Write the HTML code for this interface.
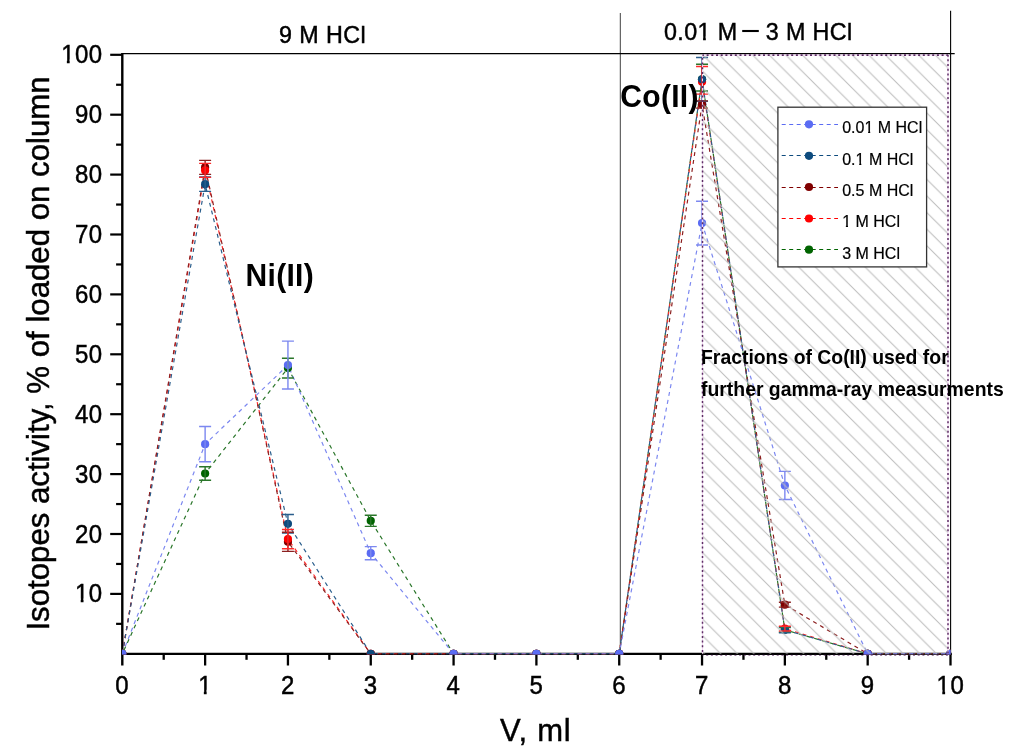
<!DOCTYPE html>
<html><head><meta charset="utf-8"><style>html,body{margin:0;padding:0;background:#fff;overflow:hidden}svg{display:block;will-change:transform}</style></head>
<body><svg width="1019" height="755" viewBox="0 0 1019 755" font-family="Liberation Sans, sans-serif">
<defs>
<clipPath id="pc"><rect x="122" y="54" width="828.6" height="600.4"/></clipPath>
<pattern id="hatch" patternUnits="userSpaceOnUse" width="16.6" height="16.6" x="0.5" y="0"><path d="M-4.15,-4.15 L20.75,20.75 M-4.15,12.45 L4.15,20.75 M12.45,-4.15 L20.75,4.15" stroke="#bbbbbb" stroke-width="1"/></pattern>
</defs>
<rect width="1019" height="755" fill="#fff"/>
<line x1="620.3" y1="13" x2="620.3" y2="653.8" stroke="#404040" stroke-width="1"/>
<line x1="950.6" y1="10.7" x2="950.6" y2="653.8" stroke="#000" stroke-width="1.1"/>
<line x1="122" y1="53.6" x2="954.7" y2="53.6" stroke="#000" stroke-width="1.1"/>
<g stroke="#000" fill="none">
<line x1="122.3" y1="53" x2="122.3" y2="665.5" stroke-width="2.4"/>
<line x1="122.3" y1="653.9" x2="951.8" y2="653.9" stroke-width="2.2"/>
<line x1="110.2" y1="593.9" x2="122.3" y2="593.9" stroke-width="2.2"/>
<line x1="110.2" y1="534" x2="122.3" y2="534" stroke-width="2.2"/>
<line x1="110.2" y1="474.1" x2="122.3" y2="474.1" stroke-width="2.2"/>
<line x1="110.2" y1="414.2" x2="122.3" y2="414.2" stroke-width="2.2"/>
<line x1="110.2" y1="354.3" x2="122.3" y2="354.3" stroke-width="2.2"/>
<line x1="110.2" y1="294.4" x2="122.3" y2="294.4" stroke-width="2.2"/>
<line x1="110.2" y1="234.5" x2="122.3" y2="234.5" stroke-width="2.2"/>
<line x1="110.2" y1="174.6" x2="122.3" y2="174.6" stroke-width="2.2"/>
<line x1="110.2" y1="114.7" x2="122.3" y2="114.7" stroke-width="2.2"/>
<line x1="110.2" y1="54.8" x2="122.3" y2="54.8" stroke-width="2.2"/>
<line x1="116.1" y1="623.85" x2="122.3" y2="623.85" stroke-width="2.2"/>
<line x1="116.1" y1="563.95" x2="122.3" y2="563.95" stroke-width="2.2"/>
<line x1="116.1" y1="504.05" x2="122.3" y2="504.05" stroke-width="2.2"/>
<line x1="116.1" y1="444.15" x2="122.3" y2="444.15" stroke-width="2.2"/>
<line x1="116.1" y1="384.25" x2="122.3" y2="384.25" stroke-width="2.2"/>
<line x1="116.1" y1="324.35" x2="122.3" y2="324.35" stroke-width="2.2"/>
<line x1="116.1" y1="264.45" x2="122.3" y2="264.45" stroke-width="2.2"/>
<line x1="116.1" y1="204.55" x2="122.3" y2="204.55" stroke-width="2.2"/>
<line x1="116.1" y1="144.65" x2="122.3" y2="144.65" stroke-width="2.2"/>
<line x1="116.1" y1="84.75" x2="122.3" y2="84.75" stroke-width="2.2"/>
<line x1="205.12" y1="653.8" x2="205.12" y2="665.5" stroke-width="2.3"/>
<line x1="287.94" y1="653.8" x2="287.94" y2="665.5" stroke-width="2.3"/>
<line x1="370.76" y1="653.8" x2="370.76" y2="665.5" stroke-width="2.3"/>
<line x1="453.58" y1="653.8" x2="453.58" y2="665.5" stroke-width="2.3"/>
<line x1="536.4" y1="653.8" x2="536.4" y2="665.5" stroke-width="2.3"/>
<line x1="619.22" y1="653.8" x2="619.22" y2="665.5" stroke-width="2.3"/>
<line x1="702.04" y1="653.8" x2="702.04" y2="665.5" stroke-width="2.3"/>
<line x1="784.86" y1="653.8" x2="784.86" y2="665.5" stroke-width="2.3"/>
<line x1="867.68" y1="653.8" x2="867.68" y2="665.5" stroke-width="2.3"/>
<line x1="950.5" y1="653.8" x2="950.5" y2="665.5" stroke-width="2.3"/>
<line x1="163.71" y1="653.8" x2="163.71" y2="659.8" stroke-width="2.3"/>
<line x1="246.53" y1="653.8" x2="246.53" y2="659.8" stroke-width="2.3"/>
<line x1="329.35" y1="653.8" x2="329.35" y2="659.8" stroke-width="2.3"/>
<line x1="412.17" y1="653.8" x2="412.17" y2="659.8" stroke-width="2.3"/>
<line x1="494.99" y1="653.8" x2="494.99" y2="659.8" stroke-width="2.3"/>
<line x1="577.81" y1="653.8" x2="577.81" y2="659.8" stroke-width="2.3"/>
<line x1="660.63" y1="653.8" x2="660.63" y2="659.8" stroke-width="2.3"/>
<line x1="743.45" y1="653.8" x2="743.45" y2="659.8" stroke-width="2.3"/>
<line x1="826.27" y1="653.8" x2="826.27" y2="659.8" stroke-width="2.3"/>
<line x1="909.09" y1="653.8" x2="909.09" y2="659.8" stroke-width="2.3"/>
</g>
<g clip-path="url(#pc)">
<polyline points="122.3,653.8 205.12,473.5 287.94,368.08 370.76,520.82 453.58,653.8 536.4,653.8 619.22,653.8 702.04,79.36 784.86,629.84 867.68,653.8 950.5,653.8" fill="none" stroke="#2a762a" stroke-width="1.2" stroke-dasharray="4 4" stroke-dashoffset="4"/>
<polyline points="122.3,653.8 205.12,170.41 287.94,539.09 370.76,653.8 453.58,653.8 536.4,653.8 619.22,653.8 702.04,81.75 784.86,628.64 867.68,653.8 950.5,653.8" fill="none" stroke="#ff2a2a" stroke-width="1.2" stroke-dasharray="4 4" stroke-dashoffset="0"/>
<polyline points="122.3,653.8 205.12,167.41 287.94,541.79 370.76,653.8 453.58,653.8 536.4,653.8 619.22,653.8 702.04,104.52 784.86,604.68 867.68,653.8 950.5,653.8" fill="none" stroke="#8c2020" stroke-width="1.2" stroke-dasharray="4 4" stroke-dashoffset="0"/>
<polyline points="122.3,653.8 205.12,184.18 287.94,523.82 370.76,653.8 453.58,653.8 536.4,653.8 619.22,653.8 702.04,79.36 784.86,629.84 867.68,653.8 950.5,653.8" fill="none" stroke="#2a5e8c" stroke-width="1.2" stroke-dasharray="4 4" stroke-dashoffset="0"/>
<polyline points="122.3,653.8 205.12,444.15 287.94,365.08 370.76,553.17 453.58,653.8 536.4,653.8 619.22,653.8 702.04,223.12 784.86,485.48 867.68,653.8 950.5,653.8" fill="none" stroke="#7c88f0" stroke-width="1.2" stroke-dasharray="4 4" stroke-dashoffset="0"/>
<circle cx="122.3" cy="653.8" r="4.1" fill="#006400"/>
<circle cx="205.12" cy="473.5" r="4.1" fill="#006400"/>
<circle cx="287.94" cy="368.08" r="4.1" fill="#006400"/>
<circle cx="370.76" cy="520.82" r="4.1" fill="#006400"/>
<circle cx="453.58" cy="653.8" r="4.1" fill="#006400"/>
<circle cx="536.4" cy="653.8" r="4.1" fill="#006400"/>
<circle cx="619.22" cy="653.8" r="4.1" fill="#006400"/>
<circle cx="702.04" cy="79.36" r="4.1" fill="#006400"/>
<circle cx="784.86" cy="629.84" r="4.1" fill="#006400"/>
<circle cx="867.68" cy="653.8" r="4.1" fill="#006400"/>
<circle cx="950.5" cy="653.8" r="4.1" fill="#006400"/>
<circle cx="122.3" cy="653.8" r="4.1" fill="#800000"/>
<circle cx="205.12" cy="167.41" r="4.1" fill="#800000"/>
<circle cx="287.94" cy="541.79" r="4.1" fill="#800000"/>
<circle cx="370.76" cy="653.8" r="4.1" fill="#800000"/>
<circle cx="453.58" cy="653.8" r="4.1" fill="#800000"/>
<circle cx="536.4" cy="653.8" r="4.1" fill="#800000"/>
<circle cx="619.22" cy="653.8" r="4.1" fill="#800000"/>
<circle cx="702.04" cy="104.52" r="4.1" fill="#800000"/>
<circle cx="784.86" cy="604.68" r="4.1" fill="#800000"/>
<circle cx="867.68" cy="653.8" r="4.1" fill="#800000"/>
<circle cx="950.5" cy="653.8" r="4.1" fill="#800000"/>
<circle cx="122.3" cy="653.8" r="4.1" fill="#ff0000"/>
<circle cx="205.12" cy="170.41" r="4.1" fill="#ff0000"/>
<circle cx="287.94" cy="539.09" r="4.1" fill="#ff0000"/>
<circle cx="370.76" cy="653.8" r="4.1" fill="#ff0000"/>
<circle cx="453.58" cy="653.8" r="4.1" fill="#ff0000"/>
<circle cx="536.4" cy="653.8" r="4.1" fill="#ff0000"/>
<circle cx="619.22" cy="653.8" r="4.1" fill="#ff0000"/>
<circle cx="702.04" cy="81.75" r="4.1" fill="#ff0000"/>
<circle cx="784.86" cy="628.64" r="4.1" fill="#ff0000"/>
<circle cx="867.68" cy="653.8" r="4.1" fill="#ff0000"/>
<circle cx="950.5" cy="653.8" r="4.1" fill="#ff0000"/>
<circle cx="122.3" cy="653.8" r="4.1" fill="#0e4b7e"/>
<circle cx="205.12" cy="184.18" r="4.1" fill="#0e4b7e"/>
<circle cx="287.94" cy="523.82" r="4.1" fill="#0e4b7e"/>
<circle cx="370.76" cy="653.8" r="4.1" fill="#0e4b7e"/>
<circle cx="453.58" cy="653.8" r="4.1" fill="#0e4b7e"/>
<circle cx="536.4" cy="653.8" r="4.1" fill="#0e4b7e"/>
<circle cx="619.22" cy="653.8" r="4.1" fill="#0e4b7e"/>
<circle cx="702.04" cy="79.36" r="4.1" fill="#0e4b7e"/>
<circle cx="784.86" cy="629.84" r="4.1" fill="#0e4b7e"/>
<circle cx="867.68" cy="653.8" r="4.1" fill="#0e4b7e"/>
<circle cx="950.5" cy="653.8" r="4.1" fill="#0e4b7e"/>
<circle cx="122.3" cy="653.8" r="4.1" fill="#5b6cf3"/>
<circle cx="205.12" cy="444.15" r="4.1" fill="#5b6cf3"/>
<circle cx="287.94" cy="365.08" r="4.1" fill="#5b6cf3"/>
<circle cx="370.76" cy="553.17" r="4.1" fill="#5b6cf3"/>
<circle cx="453.58" cy="653.8" r="4.1" fill="#5b6cf3"/>
<circle cx="536.4" cy="653.8" r="4.1" fill="#5b6cf3"/>
<circle cx="619.22" cy="653.8" r="4.1" fill="#5b6cf3"/>
<circle cx="702.04" cy="223.12" r="4.1" fill="#5b6cf3"/>
<circle cx="784.86" cy="485.48" r="4.1" fill="#5b6cf3"/>
<circle cx="867.68" cy="653.8" r="4.1" fill="#5b6cf3"/>
<circle cx="950.5" cy="653.8" r="4.1" fill="#5b6cf3"/>
<path d="M205.12,466.73V480.27M199.12,466.73H211.12M199.12,480.27H211.12" stroke="#2a762a" stroke-width="1.4" fill="none"/>
<path d="M287.94,358.19V377.96M281.94,358.19H293.94M281.94,377.96H293.94" stroke="#2a762a" stroke-width="1.4" fill="none"/>
<path d="M370.76,515.31V526.33M364.76,515.31H376.76M364.76,526.33H376.76" stroke="#2a762a" stroke-width="1.4" fill="none"/>
<path d="M702.04,64.32V90.98M696.04,64.32H708.04M696.04,90.98H708.04" stroke="#2a762a" stroke-width="1.4" fill="none"/>
<path d="M784.86,627.44V632.24M778.86,627.44H790.86M778.86,632.24H790.86" stroke="#2a762a" stroke-width="1.4" fill="none"/>
<path d="M205.12,177V191.37M199.12,177H211.12M199.12,191.37H211.12" stroke="#2a5e8c" stroke-width="1.4" fill="none"/>
<path d="M287.94,514.47V533.16M281.94,514.47H293.94M281.94,533.16H293.94" stroke="#2a5e8c" stroke-width="1.4" fill="none"/>
<path d="M702.04,57.44V101.28M696.04,57.44H708.04M696.04,101.28H708.04" stroke="#2a5e8c" stroke-width="1.4" fill="none"/>
<path d="M784.86,626.84V632.83M778.86,626.84H790.86M778.86,632.83H790.86" stroke="#2a5e8c" stroke-width="1.4" fill="none"/>
<path d="M205.12,160.4V174.42M199.12,160.4H211.12M199.12,174.42H211.12" stroke="#8c2020" stroke-width="1.4" fill="none"/>
<path d="M287.94,532.2V551.37M281.94,532.2H293.94M281.94,551.37H293.94" stroke="#8c2020" stroke-width="1.4" fill="none"/>
<path d="M702.04,100.92V108.11M696.04,100.92H708.04M696.04,108.11H708.04" stroke="#8c2020" stroke-width="1.4" fill="none"/>
<path d="M784.86,602.29V607.08M778.86,602.29H790.86M778.86,607.08H790.86" stroke="#8c2020" stroke-width="1.4" fill="none"/>
<path d="M205.12,163.4V177.42M199.12,163.4H211.12M199.12,177.42H211.12" stroke="#ff2a2a" stroke-width="1.4" fill="none"/>
<path d="M287.94,529.51V548.68M281.94,529.51H293.94M281.94,548.68H293.94" stroke="#ff2a2a" stroke-width="1.4" fill="none"/>
<path d="M702.04,66.48V94.09M696.04,66.48H708.04M696.04,94.09H708.04" stroke="#ff2a2a" stroke-width="1.4" fill="none"/>
<path d="M784.86,626.25V631.04M778.86,626.25H790.86M778.86,631.04H790.86" stroke="#ff2a2a" stroke-width="1.4" fill="none"/>
<path d="M205.12,426.54V461.76M199.12,426.54H211.12M199.12,461.76H211.12" stroke="#7c88f0" stroke-width="1.4" fill="none"/>
<path d="M287.94,341.12V389.04M281.94,341.12H293.94M281.94,389.04H293.94" stroke="#7c88f0" stroke-width="1.4" fill="none"/>
<path d="M370.76,546.58V559.76M364.76,546.58H376.76M364.76,559.76H376.76" stroke="#7c88f0" stroke-width="1.4" fill="none"/>
<path d="M702.04,201.26V244.98M696.04,201.26H708.04M696.04,244.98H708.04" stroke="#7c88f0" stroke-width="1.4" fill="none"/>
<path d="M784.86,471.4V499.56M778.86,471.4H790.86M778.86,499.56H790.86" stroke="#7c88f0" stroke-width="1.4" fill="none"/>
</g>
<rect x="702" y="54.7" width="246" height="599.1" fill="url(#hatch)"/>
<path d="M702.5,653.8V55.1H948V653.8" fill="none" stroke="#f2d6f2" stroke-width="1"/>
<line x1="702.5" y1="55.1" x2="702.5" y2="653.8" stroke="#5e2f66" stroke-width="1.5" stroke-dasharray="2 2.7" stroke-dashoffset="2"/>
<line x1="702.5" y1="55.1" x2="948" y2="55.1" stroke="#5e2f66" stroke-width="1.6" stroke-dasharray="2 2.7" stroke-dashoffset="0.6"/>
<line x1="948" y1="55.1" x2="948" y2="653.8" stroke="#5e2f66" stroke-width="1.5" stroke-dasharray="2 2.7" stroke-dashoffset="0.45"/>
<line x1="702.5" y1="655.3" x2="948" y2="655.3" stroke="#5e2f66" stroke-width="1.2" stroke-opacity="0.6" stroke-dasharray="2 2.7" stroke-dashoffset="1"/>
<g transform="translate(102.7,602.4) scale(1,1.06)"><text text-anchor="end" font-size="24" stroke="#000" stroke-width="0.45" letter-spacing="0.5">10</text><rect x="-26.86" y="-3.59" width="4.86" height="5.79" fill="#fff"/><rect x="-19.18" y="-3.59" width="4.67" height="5.79" fill="#fff"/></g>
<g transform="translate(102.7,542.5) scale(1,1.06)"><text text-anchor="end" font-size="24" stroke="#000" stroke-width="0.45" letter-spacing="0.5">20</text></g>
<g transform="translate(102.7,482.6) scale(1,1.06)"><text text-anchor="end" font-size="24" stroke="#000" stroke-width="0.45" letter-spacing="0.5">30</text></g>
<g transform="translate(102.7,422.7) scale(1,1.06)"><text text-anchor="end" font-size="24" stroke="#000" stroke-width="0.45" letter-spacing="0.5">40</text></g>
<g transform="translate(102.7,362.8) scale(1,1.06)"><text text-anchor="end" font-size="24" stroke="#000" stroke-width="0.45" letter-spacing="0.5">50</text></g>
<g transform="translate(102.7,302.9) scale(1,1.06)"><text text-anchor="end" font-size="24" stroke="#000" stroke-width="0.45" letter-spacing="0.5">60</text></g>
<g transform="translate(102.7,243) scale(1,1.06)"><text text-anchor="end" font-size="24" stroke="#000" stroke-width="0.45" letter-spacing="0.5">70</text></g>
<g transform="translate(102.7,183.1) scale(1,1.06)"><text text-anchor="end" font-size="24" stroke="#000" stroke-width="0.45" letter-spacing="0.5">80</text></g>
<g transform="translate(102.7,123.2) scale(1,1.06)"><text text-anchor="end" font-size="24" stroke="#000" stroke-width="0.45" letter-spacing="0.5">90</text></g>
<g transform="translate(102.7,63.3) scale(1,1.06)"><text text-anchor="end" font-size="24" stroke="#000" stroke-width="0.45" letter-spacing="0.5">100</text><rect x="-40.7" y="-3.59" width="4.86" height="5.79" fill="#fff"/><rect x="-33.03" y="-3.59" width="4.67" height="5.79" fill="#fff"/></g>
<g transform="translate(122.25,693.6) scale(1,1.06)"><text text-anchor="middle" font-size="24" stroke="#000" stroke-width="0.45" letter-spacing="0.5">0</text></g>
<g transform="translate(205.07,693.6) scale(1,1.06)"><text text-anchor="middle" font-size="24" stroke="#000" stroke-width="0.45" letter-spacing="0.5">1</text><rect x="-6.09" y="-3.59" width="4.86" height="5.79" fill="#fff"/><rect x="1.58" y="-3.59" width="4.67" height="5.79" fill="#fff"/></g>
<g transform="translate(287.89,693.6) scale(1,1.06)"><text text-anchor="middle" font-size="24" stroke="#000" stroke-width="0.45" letter-spacing="0.5">2</text></g>
<g transform="translate(370.71,693.6) scale(1,1.06)"><text text-anchor="middle" font-size="24" stroke="#000" stroke-width="0.45" letter-spacing="0.5">3</text></g>
<g transform="translate(453.53,693.6) scale(1,1.06)"><text text-anchor="middle" font-size="24" stroke="#000" stroke-width="0.45" letter-spacing="0.5">4</text></g>
<g transform="translate(536.35,693.6) scale(1,1.06)"><text text-anchor="middle" font-size="24" stroke="#000" stroke-width="0.45" letter-spacing="0.5">5</text></g>
<g transform="translate(619.17,693.6) scale(1,1.06)"><text text-anchor="middle" font-size="24" stroke="#000" stroke-width="0.45" letter-spacing="0.5">6</text></g>
<g transform="translate(701.99,693.6) scale(1,1.06)"><text text-anchor="middle" font-size="24" stroke="#000" stroke-width="0.45" letter-spacing="0.5">7</text></g>
<g transform="translate(784.81,693.6) scale(1,1.06)"><text text-anchor="middle" font-size="24" stroke="#000" stroke-width="0.45" letter-spacing="0.5">8</text></g>
<g transform="translate(867.63,693.6) scale(1,1.06)"><text text-anchor="middle" font-size="24" stroke="#000" stroke-width="0.45" letter-spacing="0.5">9</text></g>
<g transform="translate(950.45,693.6) scale(1,1.06)"><text text-anchor="middle" font-size="24" stroke="#000" stroke-width="0.45" letter-spacing="0.5">10</text><rect x="-13.02" y="-3.59" width="4.86" height="5.79" fill="#fff"/><rect x="-5.34" y="-3.59" width="4.67" height="5.79" fill="#fff"/></g>
<g transform="translate(535.65,741) scale(1,1.02)"><text text-anchor="middle" font-size="31" stroke="#000" stroke-width="0.45" letter-spacing="0.7">V, ml</text></g>
<text transform="translate(49.3,353.5) rotate(-90) scale(1,1.02)" text-anchor="middle" font-size="31.2" stroke="#000" stroke-width="0.45">Isotopes activity, % of loaded on column</text>
<g transform="translate(322.61,43) scale(1,1.02)"><text text-anchor="middle" font-size="23.3" stroke="#000" stroke-width="0.45" letter-spacing="0.43">9 M HCl</text></g>
<g transform="translate(664,39.7) scale(1,1.02)"><text font-size="23.3" stroke="#000" stroke-width="0.45" letter-spacing="0.4">0.01 M</text><rect x="34.33" y="-3.54" width="4.73" height="5.74" fill="#fff"/><rect x="41.82" y="-3.54" width="4.55" height="5.74" fill="#fff"/></g>
<line x1="742.2" y1="31" x2="758.8" y2="31" stroke="#000" stroke-width="2.1"/>
<g transform="translate(852.6,39.7) scale(1,1.02)"><text text-anchor="end" font-size="23.3" stroke="#000" stroke-width="0.45" letter-spacing="0.4">3 M HCl</text></g>
<g transform="translate(245.6,286.2) scale(1,1.02)"><text font-size="30" font-weight="bold" letter-spacing="0.3">Ni(II)</text></g>
<g transform="translate(620.3,106.8) scale(1,1.02)"><text font-size="30" font-weight="bold" letter-spacing="0.3">Co(II)</text></g>
<g transform="translate(701,363.9) scale(1,1.02)"><text font-size="19.4" font-weight="bold">Fractions of Co(II) used for</text></g>
<g transform="translate(701,395.7) scale(1,1.02)"><text font-size="19.4" font-weight="bold">further gamma-ray measurments</text></g>
<rect x="777.9" y="107.2" width="148.7" height="159.7" fill="#fff" stroke="#333" stroke-width="1.3"/>
<line x1="780.7" y1="124.5" x2="838" y2="124.5" stroke="#5b6cf3" stroke-width="1.2" stroke-dasharray="4 3.5" stroke-dashoffset="-1"/>
<circle cx="809" cy="124.3" r="4.1" fill="#5b6cf3"/>
<g transform="translate(842.2,133.2) scale(1,1.02)"><text font-size="16" stroke="#000" stroke-width="0.2">0.01 M HCl</text><rect x="22.45" y="-3" width="3.45" height="5.2" fill="#fff"/><rect x="28.02" y="-3" width="3.33" height="5.2" fill="#fff"/></g>
<line x1="780.7" y1="155.5" x2="838" y2="155.5" stroke="#0e4b7e" stroke-width="1.2" stroke-dasharray="4 3.5" stroke-dashoffset="-1"/>
<circle cx="809" cy="155.8" r="4.1" fill="#0e4b7e"/>
<g transform="translate(842.2,164.7) scale(1,1.02)"><text font-size="16" stroke="#000" stroke-width="0.2">0.1 M HCl</text><rect x="13.55" y="-3" width="3.45" height="5.2" fill="#fff"/><rect x="19.12" y="-3" width="3.33" height="5.2" fill="#fff"/></g>
<line x1="780.7" y1="187.5" x2="838" y2="187.5" stroke="#800000" stroke-width="1.2" stroke-dasharray="4 3.5" stroke-dashoffset="-1"/>
<circle cx="809" cy="187.0" r="4.1" fill="#800000"/>
<g transform="translate(842.2,195.9) scale(1,1.02)"><text font-size="16" stroke="#000" stroke-width="0.2">0.5 M HCl</text></g>
<line x1="780.7" y1="218.5" x2="838" y2="218.5" stroke="#ff0000" stroke-width="1.2" stroke-dasharray="4 3.5" stroke-dashoffset="-1"/>
<circle cx="809" cy="218.5" r="4.1" fill="#ff0000"/>
<g transform="translate(842.2,227.4) scale(1,1.02)"><text font-size="16" stroke="#000" stroke-width="0.2">1 M HCl</text><rect x="0.22" y="-3" width="3.45" height="5.2" fill="#fff"/><rect x="5.79" y="-3" width="3.33" height="5.2" fill="#fff"/></g>
<line x1="780.7" y1="249.5" x2="838" y2="249.5" stroke="#006400" stroke-width="1.2" stroke-dasharray="4 3.5" stroke-dashoffset="-1"/>
<circle cx="809" cy="249.7" r="4.1" fill="#006400"/>
<g transform="translate(842.2,258.6) scale(1,1.02)"><text font-size="16" stroke="#000" stroke-width="0.2">3 M HCl</text></g>
</svg></body></html>
